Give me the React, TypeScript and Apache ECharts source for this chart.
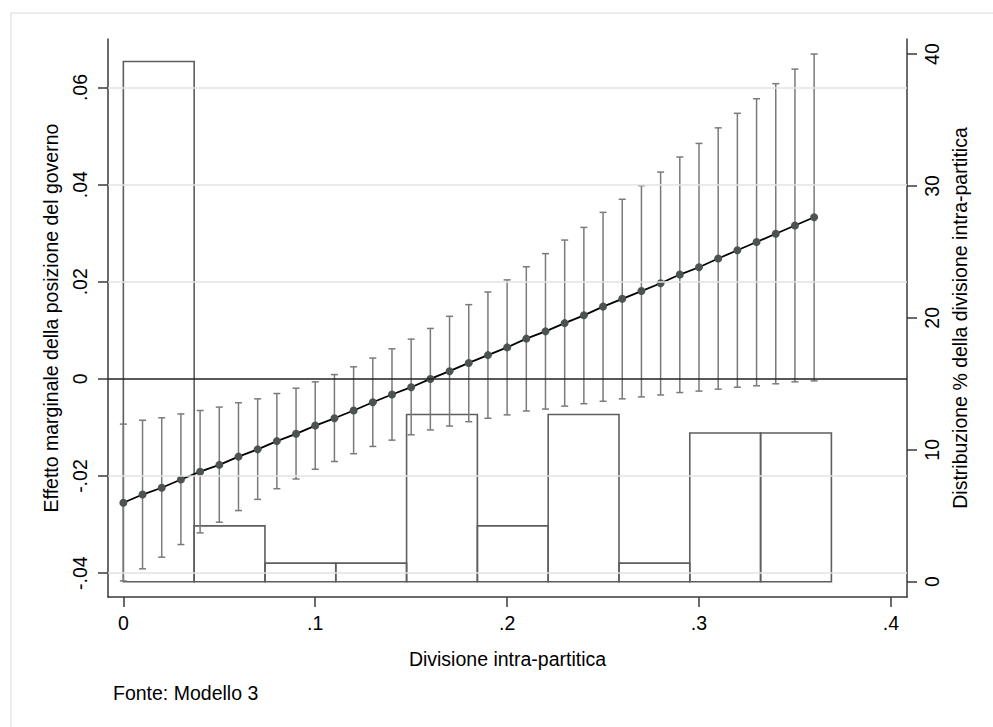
import React, { useEffect, useRef } from "react";
import * as echarts from "echarts";

// Marginal effect estimates at each value of "Divisione intra-partitica"
const xValues = [
  0, 0.01, 0.02, 0.03, 0.04, 0.05, 0.06, 0.07, 0.08, 0.09, 0.1, 0.11, 0.12,
  0.13, 0.14, 0.15, 0.16, 0.17, 0.18, 0.19, 0.2, 0.21, 0.22, 0.23, 0.24, 0.25,
  0.26, 0.27, 0.28, 0.29, 0.3, 0.31, 0.32, 0.33, 0.34, 0.35, 0.36,
];
const effect = [
  -0.0255, -0.0238, -0.0224, -0.0207, -0.0191, -0.0177, -0.016, -0.0145,
  -0.0128, -0.0113, -0.0096, -0.0081, -0.0065, -0.0048, -0.0032, -0.0017, 0.0,
  0.0016, 0.0033, 0.0049, 0.0065, 0.0083, 0.0098, 0.0115, 0.0131, 0.0149,
  0.0165, 0.0181, 0.0197, 0.0215, 0.023, 0.0248, 0.0265, 0.0282, 0.0299,
  0.0316, 0.0333,
];
const lower = [
  -0.0416, -0.0391, -0.0367, -0.0341, -0.0317, -0.0295, -0.0271, -0.0248,
  -0.0226, -0.0206, -0.0186, -0.017, -0.0154, -0.0139, -0.0126, -0.0115,
  -0.0105, -0.0097, -0.0088, -0.0081, -0.0074, -0.0066, -0.0062, -0.0056,
  -0.0051, -0.0046, -0.0041, -0.0037, -0.0033, -0.0028, -0.0025, -0.0021,
  -0.0017, -0.0014, -0.001, -0.0006, -0.0004,
];
const upper = [
  -0.0093, -0.0085, -0.008, -0.0072, -0.0065, -0.0058, -0.0049, -0.0041,
  -0.003, -0.0019, -0.0006, 0.0009, 0.0025, 0.0043, 0.0062, 0.0082, 0.0104,
  0.0129, 0.0153, 0.0179, 0.0204, 0.0231, 0.0258, 0.0286, 0.0312, 0.0343,
  0.037, 0.0398, 0.0426, 0.0457, 0.0485, 0.0517, 0.0547, 0.0577, 0.0608,
  0.0638, 0.0669,
];

// Histogram of the moderator (percent)
const binEdges = [
  0, 0.0369, 0.0738, 0.1107, 0.1476, 0.1845, 0.2214, 0.2583, 0.2952, 0.3321,
  0.369,
];
const binPercent = [39.44, 4.23, 1.41, 1.41, 12.68, 4.23, 12.68, 1.41, 11.27, 11.27];

// Tick values
const xTicks = [0, 0.1, 0.2, 0.3, 0.4];
const leftTicks = [-0.04, -0.02, 0, 0.02, 0.04, 0.06];
const rightTicks = [0, 10, 20, 30, 40];
const gridValues = [-0.04, -0.02, 0.02, 0.04, 0.06];

const FONT = "'Liberation Sans', Arial, Helvetica, sans-serif";
const AXIS_COLOR = "#3a3a3a";
const FS = 19.5;

const fmtDec = (v: number) => {
  if (v === 0) return "0";
  return String(v).replace("0.", ".");
};

export default function App() {
  const ref = useRef<HTMLDivElement>(null);

  useEffect(() => {
    if (!ref.current) return;
    const chart = echarts.init(ref.current, undefined, { renderer: "svg" });

    const histData = binPercent.map((p, i) => [binEdges[i], binEdges[i + 1], p]);
    const ciData = xValues.map((x, i) => [x, lower[i], upper[i]]);
    const lineData = xValues.map((x, i) => [x, effect[i]]);

    const axisTextStyle = { fontFamily: FONT, fontSize: FS, color: "#000" };

    const option: any = {
      animation: false,
      backgroundColor: "#fff",
      grid: { left: 108, top: 39, width: 799, height: 558 },
      graphic: [
        {
          type: "rect",
          shape: { x: 11, y: 13, width: 1100, height: 900 },
          style: { fill: "none", stroke: "#e6e6e6", lineWidth: 1.5 },
          silent: true,
          z: -10,
        },
        {
          type: "text",
          x: 113,
          y: 693,
          style: {
            text: "Fonte: Modello 3",
            font: `${FS}px ${FONT}`,
            fill: "#000",
            verticalAlign: "middle",
            align: "left",
          },
        },
      ],
      xAxis: {
        type: "value",
        min: -0.008,
        max: 0.4084,
        name: "Divisione intra-partitica",
        nameLocation: "middle",
        nameGap: 52,
        nameTextStyle: axisTextStyle,
        axisLine: { show: true, onZero: false, lineStyle: { color: AXIS_COLOR, width: 1.5 } },
        axisTick: {
          show: true,
          length: 10,
          customValues: xTicks,
          lineStyle: { color: AXIS_COLOR, width: 1.5 },
        },
        axisLabel: {
          customValues: xTicks,
          formatter: (v: number) => fmtDec(v),
          margin: 16,
          ...axisTextStyle,
        },
        splitLine: { show: false },
      },
      yAxis: [
        {
          type: "value",
          position: "left",
          min: -0.0449,
          max: 0.07,
          name: "Effetto marginale della posizione del governo",
          nameLocation: "middle",
          nameRotate: 90,
          nameGap: 47,
          nameTextStyle: axisTextStyle,
          axisLine: { show: true, onZero: false, lineStyle: { color: AXIS_COLOR, width: 1.5 } },
          axisTick: {
            show: true,
            length: 10,
            customValues: leftTicks,
            lineStyle: { color: AXIS_COLOR, width: 1.5 },
          },
          axisLabel: {
            customValues: leftTicks,
            rotate: 90,
            formatter: (v: number) => fmtDec(v),
            margin: 18,
            ...axisTextStyle,
          },
          splitLine: { show: false },
        },
        {
          type: "value",
          position: "right",
          min: -1.16,
          max: 41.14,
          name: "Distribuzione % della divisione intra-partitica",
          nameLocation: "middle",
          nameRotate: 90,
          nameGap: 42,
          nameTextStyle: axisTextStyle,
          axisLine: { show: true, onZero: false, lineStyle: { color: AXIS_COLOR, width: 1.5 } },
          axisTick: {
            show: true,
            length: 10,
            customValues: rightTicks,
            lineStyle: { color: AXIS_COLOR, width: 1.5 },
          },
          axisLabel: {
            customValues: rightTicks,
            rotate: 90,
            margin: 15,
            ...axisTextStyle,
          },
          splitLine: { show: false },
        },
      ],
      series: [
        {
          type: "line",
          name: "grid",
          data: [],
          z: 0,
          silent: true,
          markLine: {
            silent: true,
            symbol: "none",
            label: { show: false },
            data: [
              ...gridValues.map((v) => ({
                yAxis: v,
                lineStyle: { color: "#e3e3e3", width: 1.5, type: "solid" },
              })),
              { yAxis: 0, lineStyle: { color: "#222", width: 1.5, type: "solid" } },
            ],
          },
        },
        {
          type: "custom",
          name: "histogram",
          yAxisIndex: 1,
          z: 1,
          data: histData,
          renderItem: (_params: any, api: any) => {
            const x0 = api.value(0);
            const x1 = api.value(1);
            const h = api.value(2);
            const p0 = api.coord([x0, h]);
            const p1 = api.coord([x1, 0]);
            return {
              type: "rect",
              shape: { x: p0[0], y: p0[1], width: p1[0] - p0[0], height: p1[1] - p0[1] },
              style: { fill: "none", stroke: "#5e5e5e", lineWidth: 1.6 },
            };
          },
        },
        {
          type: "custom",
          name: "ci",
          z: 2,
          data: ciData,
          renderItem: (_params: any, api: any) => {
            const x = api.value(0);
            const lo = api.coord([x, api.value(1)]);
            const hi = api.coord([x, api.value(2)]);
            const cap = 3.5;
            const st = { stroke: "#7a7a7a", lineWidth: 1.5 };
            return {
              type: "group",
              children: [
                { type: "line", shape: { x1: lo[0], y1: lo[1], x2: hi[0], y2: hi[1] }, style: st },
                { type: "line", shape: { x1: lo[0] - cap, y1: lo[1], x2: lo[0] + cap, y2: lo[1] }, style: st },
                { type: "line", shape: { x1: hi[0] - cap, y1: hi[1], x2: hi[0] + cap, y2: hi[1] }, style: st },
              ],
            };
          },
        },
        {
          type: "line",
          name: "effect",
          z: 3,
          data: lineData,
          symbol: "circle",
          symbolSize: 8,
          showAllSymbol: true,
          itemStyle: { color: "#4d5252" },
          lineStyle: { color: "#000", width: 1.8 },
        },
      ],
    };

    chart.setOption(option);
    return () => chart.dispose();
  }, []);

  return (
    <div
      ref={ref}
      style={{ position: "fixed", left: 0, top: 0, width: 993, height: 727, background: "#fff" }}
    />
  );
}
